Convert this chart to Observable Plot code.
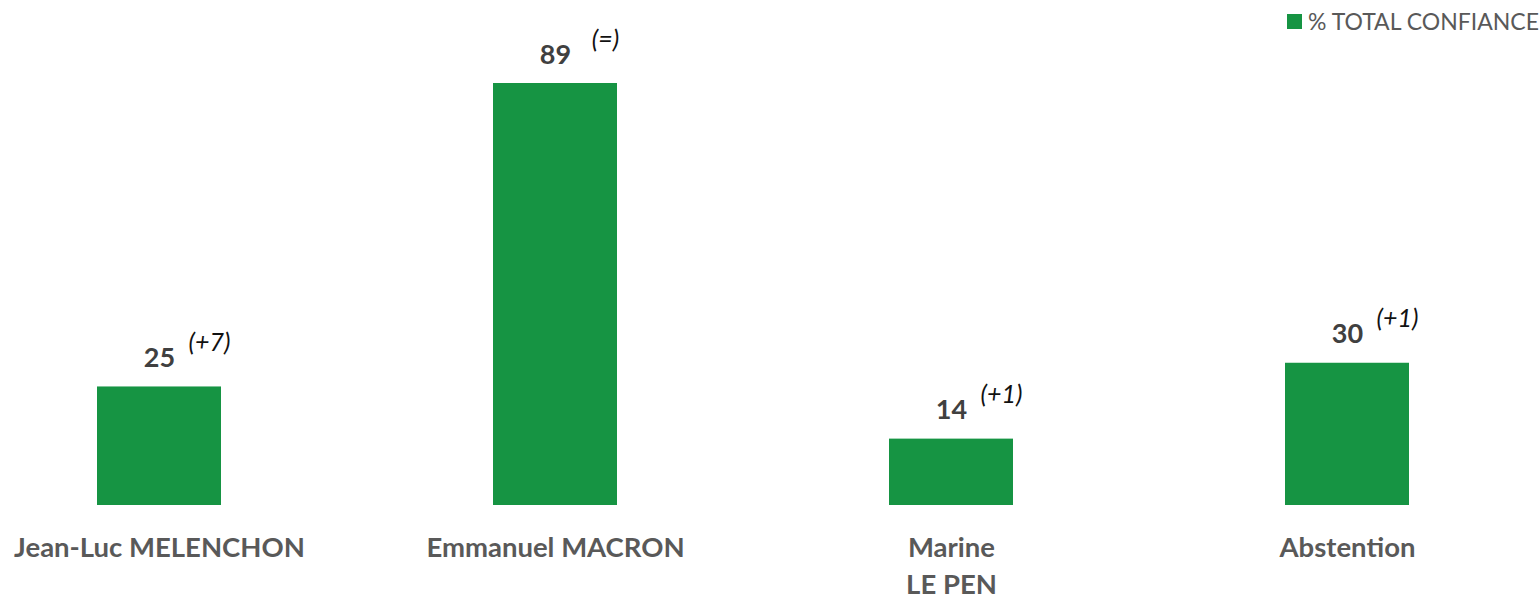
<!DOCTYPE html>
<html>
<head>
<meta charset="utf-8">
<script src="https://cdn.jsdelivr.net/npm/d3@7"></script>
<script src="https://cdn.jsdelivr.net/npm/@observablehq/plot@0.6"></script>
<style>
  html, body { margin: 0; padding: 0; background: #fff; }
  #wrap { position: relative; width: 1539px; height: 597px; overflow: hidden; }
  #legend { position: absolute; left: 1287px; top: 7px; display: flex; align-items: center;
            font-family: Lato, "Open Sans", sans-serif; font-size: 23px; color: #595959; white-space: nowrap; }
  #legend .sw { width: 15px; height: 15px; background: #169443; margin-right: 6px; }
  svg { display: block; }
</style>
</head>
<body>
<div id="wrap">
  <div id="legend"><span class="sw"></span><span>% TOTAL CONFIANCE</span></div>
  <div id="chart"></div>
</div>
<script>
const categories = ["Jean-Luc MELENCHON", "Emmanuel MACRON", "Marine\nLE PEN", "Abstention"];
const values = [25, 89, 14, 30];
const deltas = ["(+7)", "(=)", "(+1)", "(+1)"];

const data = categories.map((c, i) => ({category: c, value: values[i], delta: deltas[i]}));

const chart = Plot.plot({
  width: 1539,
  height: 597,
  marginLeft: 0,
  marginRight: 33,
  marginTop: 83,
  marginBottom: 92,
  style: {fontFamily: "Lato, 'Open Sans', sans-serif", background: "#fff"},
  x: {domain: categories, paddingInner: 0.687, paddingOuter: 0.245, axis: null},
  y: {domain: [0, 89], axis: null},
  marks: [
    Plot.barY(data, {x: "category", y: "value", fill: "#169443"}),
    Plot.text(data, {x: "category", y: "value", text: d => String(d.value), lineAnchor: "bottom", dy: -20,
      fontSize: 27, fontWeight: "bold", fill: "#404040"}),
    Plot.text(data, {x: "category", y: "value", text: "delta", lineAnchor: "bottom", dx: 50, dy: -36,
      fontSize: 25, fontStyle: "italic", fill: "#111"}),
    Plot.text(data, {x: "category", y: 0, text: "category", lineAnchor: "top", lineHeight: 1.36, dy: 25,
      fontSize: 27.5, fontWeight: "bold", fill: "#595959"})
  ]
});
document.getElementById("chart").appendChild(chart);
</script>
</body>
</html>
